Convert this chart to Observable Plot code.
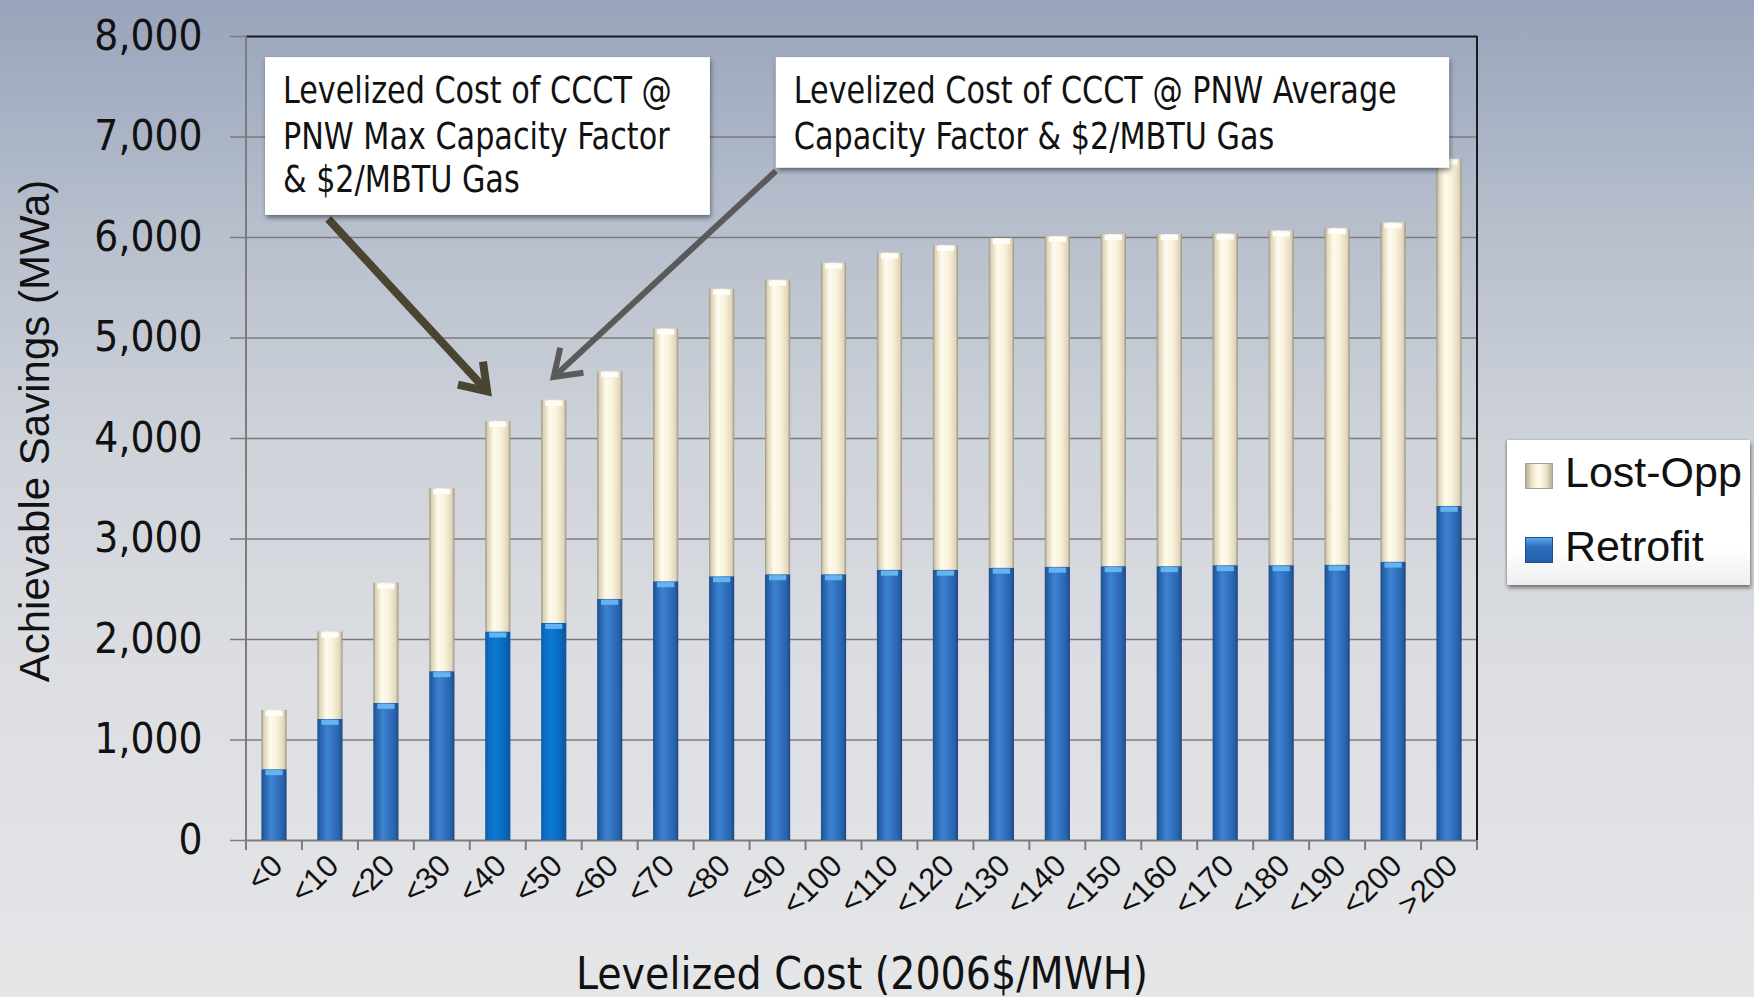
<!DOCTYPE html>
<html>
<head>
<meta charset="utf-8">
<script src="https://cdn.jsdelivr.net/npm/d3@7"></script>
<script src="https://cdn.jsdelivr.net/npm/@observablehq/plot@0.6"></script>
<style>
  html, body { margin: 0; padding: 0; }
  body {
    width: 1754px; height: 997px; overflow: hidden;
    background: linear-gradient(180deg, #98a4bb 0%, #b6becc 22%, #cfd3da 45%, #dcdee2 68%, #e5e6e8 100%);
  }
  #wrap { position: relative; width: 1754px; height: 997px; }
  #wrap svg { position: absolute; left: 0; top: 0; overflow: visible; }
  #legend {
    position: absolute; left: 1507px; top: 440px; width: 243px; height: 145px;
    background: linear-gradient(180deg, #ffffff 0%, #ffffff 75%, #eeeeee 100%);
    box-shadow: 1px 3px 4px rgba(0,0,0,0.45), -1px 0 2px rgba(0,0,0,0.2);
    font-family: "Liberation Sans", Arial, sans-serif; color: #111;
  }
  .sw { position: absolute; left: 18px; width: 28px; height: 26px; box-sizing: border-box; }
  .lab { position: absolute; left: 58px; font-size: 43px; line-height: 1; }
</style>
</head>
<body>
<div id="wrap"></div>
<script>
// ---------------- data ----------------
const categories = ["<0","<10","<20","<30","<40","<50","<60","<70","<80","<90","<100","<110","<120","<130","<140","<150","<160","<170","<180","<190","<200",">200"];
const retrofit = [705, 1205, 1365, 1680, 2075, 2160, 2400, 2575, 2625, 2645, 2645, 2690, 2690, 2710, 2720, 2725, 2725, 2735, 2735, 2740, 2770, 3325];
const lostOpp  = [590, 870, 1195, 1820, 2095, 2220, 2265, 2515, 2860, 2930, 3100, 3155, 3230, 3280, 3290, 3305, 3305, 3300, 3330, 3350, 3375, 3455];
const seriesNames = ["Retrofit", "Lost-Opp"];
const legendOrder = ["Lost-Opp", "Retrofit"];
const highlighted = ["<40", "<50"];
const yTicks = [0, 1000, 2000, 3000, 4000, 5000, 6000, 7000, 8000];
const xTitle = "Levelized Cost (2006$/MWH)";
const yTitle = "Achievable Savings (MWa)";
const callouts = [
  { lines: ["Levelized Cost of CCCT @", "PNW Max Capacity Factor", "& $2/MBTU Gas"],
    box: [0.34, 8.29, 7790, 6220], text: [0.66, [7333, 6876, 6448]],
    arrow: [1.47, 6179, 4.31, 4465], color: "#4a4531", width: 8 },
  { lines: ["Levelized Cost of CCCT @ PNW Average", "Capacity Factor & $2/MBTU Gas"],
    box: [9.47, 21.5, 7790, 6690], text: [9.79, [7333, 6876]],
    arrow: [9.47, 6657, 5.5, 4607], color: "#5a5a5a", width: 6 }
];

// ---------------- table ----------------
const table = [];
categories.forEach((c, i) => {
  table.push({cat: c, series: "Retrofit", value: retrofit[i]});
  table.push({cat: c, series: "Lost-Opp", value: lostOpp[i]});
});

const NARROW = "'Liberation Sans Narrow', 'Arial Narrow', 'DejaVu Sans Condensed', sans-serif";
const REG = "'Liberation Sans', Arial, sans-serif";

const fillOf = d => d.series === "Retrofit" ? (highlighted.includes(d.cat) ? "url(#gRetroHi)" : "url(#gRetro)") : "url(#gLost)";
const capOf = d => d.series === "Retrofit" ? "#63b4ef" : "#fffdf7";

const chart = Plot.plot({
  width: 1754, height: 997,
  marginLeft: 246, marginRight: 277, marginTop: 36, marginBottom: 157,
  style: {background: "transparent", fontFamily: NARROW, color: "#111", overflow: "visible"},
  x: {domain: categories, paddingInner: 0.55, paddingOuter: 0.275, round: false, label: null},
  y: {domain: [0, 8000], label: null},
  color: {type: "identity"},
  marks: [
    Plot.gridY(yTicks.filter(t => t > 0 && t < 8000), {stroke: "#7c7c7c", strokeOpacity: 1, strokeWidth: 1.5}),
    Plot.ruleY([0], {stroke: "#7c7c7c", strokeWidth: 2}),
    Plot.barY(table, Plot.stackY({x: "cat", y: "value", z: "series", order: seriesNames, fill: fillOf})),
    Plot.tickY(table, Plot.stackY2({x: "cat", y: "value", z: "series", order: seriesNames, stroke: capOf, strokeWidth: 5, dy: 3, insetLeft: 4, insetRight: 4})),
    Plot.ruleY([8000], {stroke: "#1b1b1b", strokeWidth: 2}),
    Plot.axisY(yTicks, {tickSize: 16, tickPadding: 28, tickFormat: d3.format(","), stroke: "#7c7c7c", strokeWidth: 1.5, fontSize: 42, fontFamily: NARROW, label: null}),
    Plot.axisX({tickRotate: -45, tickSize: 0, tickPadding: 20, dx: 3, fontSize: 31, fontFamily: REG, label: null}),
    Plot.text([xTitle], {text: d => d, frameAnchor: "bottom", dy: 148, fontSize: 44, fontFamily: NARROW, fill: "#111"})
  ]
});

document.getElementById("wrap").appendChild(chart);

// ---------------- decorations using the chart's scales ----------------
const svg = d3.select(chart);
const xs = chart.scale("x"), ys = chart.scale("y");
const step = xs.apply(categories[1]) - xs.apply(categories[0]);
const bw = xs.bandwidth;
const left = xs.apply(categories[0]) - (step - bw) / 2;
const U = u => left + u * step;
const V = v => ys.apply(v);
const yTop = V(8000), yBot = V(0);
const right = U(categories.length);

const defs = svg.insert("defs", ":first-child");
function grad(id, stops) {
  const g = defs.append("linearGradient").attr("id", id).attr("x1", 0).attr("x2", 1).attr("y1", 0).attr("y2", 0);
  stops.forEach(([o, c]) => g.append("stop").attr("offset", o).attr("stop-color", c));
}
grad("gRetro", [[0, "#1d4f8e"], [0.12, "#2862a8"], [0.38, "#3c83d2"], [0.62, "#3273c2"], [0.88, "#2860a8"], [1, "#1a4680"]]);
grad("gRetroHi", [[0, "#0b5aa6"], [0.12, "#0a6ac0"], [0.4, "#0d79d2"], [0.7, "#0a6cc2"], [1, "#0a559e"]]);
grad("gLost", [[0, "#9c9684"], [0.1, "#ddd4b8"], [0.35, "#fffbee"], [0.65, "#f7efd8"], [0.9, "#e0d6ba"], [1, "#98927f"]]);
const f = defs.append("filter").attr("id", "shadow").attr("x", "-5%").attr("y", "-5%").attr("width", "115%").attr("height", "125%");
f.append("feDropShadow").attr("dx", 1).attr("dy", 3).attr("stdDeviation", 2.5).attr("flood-color", "#000").attr("flood-opacity", 0.45);

const deco = svg.append("g");
deco.append("line").attr("x1", left).attr("x2", left).attr("y1", yTop).attr("y2", yBot + 10).attr("stroke", "#7c7c7c").attr("stroke-width", 2);
deco.append("line").attr("x1", right).attr("x2", right).attr("y1", yTop).attr("y2", yBot).attr("stroke", "#1b1b1b").attr("stroke-width", 2);
for (let i = 1; i <= categories.length; i++) {
  deco.append("line").attr("x1", U(i)).attr("x2", U(i)).attr("y1", yBot).attr("y2", yBot + 10).attr("stroke", "#7c7c7c").attr("stroke-width", 2);
}
deco.append("text")
  .attr("transform", `translate(${left - 212},${(yTop + yBot) / 2 - 7}) rotate(-90)`)
  .attr("text-anchor", "middle").attr("dominant-baseline", "central")
  .attr("font-family", REG).attr("font-size", 42).attr("fill", "#111").text(yTitle);

// callouts
callouts.forEach(c => {
  const g = svg.append("g");
  const [u0, u1, v0, v1] = c.box;
  const [au, av, bu, bv] = c.arrow;
  const x1 = U(au), y1 = V(av), x2 = U(bu), y2 = V(bv);
  const ang = Math.atan2(y2 - y1, x2 - x1);
  const L = 30, A = Math.PI / 5.2;
  g.append("line").attr("x1", x1).attr("y1", y1).attr("x2", x2 - Math.cos(ang) * 3).attr("y2", y2 - Math.sin(ang) * 3)
    .attr("stroke", c.color).attr("stroke-width", c.width);
  g.append("path")
    .attr("d", `M${x2 - L * Math.cos(ang - A)},${y2 - L * Math.sin(ang - A)} L${x2},${y2} L${x2 - L * Math.cos(ang + A)},${y2 - L * Math.sin(ang + A)}`)
    .attr("fill", "none").attr("stroke", c.color).attr("stroke-width", c.width).attr("stroke-linejoin", "miter").attr("stroke-linecap", "butt");
  g.append("rect").attr("x", U(u0)).attr("y", V(v0)).attr("width", U(u1) - U(u0)).attr("height", V(v1) - V(v0))
    .attr("fill", "#ffffff").attr("filter", "url(#shadow)");
  const [tu, tvs] = c.text;
  c.lines.forEach((line, i) => {
    const t = g.append("text").attr("x", U(tu)).attr("y", V(tvs[i])).attr("text-anchor", "start")
      .attr("font-family", NARROW).attr("font-size", 38).attr("fill", "#111").text(line);
    const len = t.node().getComputedTextLength();
    if (len > 0) t.attr("textLength", len * 0.885).attr("lengthAdjust", "spacingAndGlyphs");
  });
});

// legend (HTML, to the right of the plot)
const legend = document.createElement("div");
legend.id = "legend";
const swatchStyle = {
  "Lost-Opp": "background: linear-gradient(90deg, #b7b09a 0%, #eee6cd 25%, #fffbee 50%, #eee6cd 75%, #b7b09a 100%); border: 1px solid #a8a18c;",
  "Retrofit": "background: linear-gradient(180deg, #5aa8ea 0%, #2f6fbf 35%, #245fa8 100%); border: 1px solid #1d4f8e;"
};
legendOrder.forEach((name, i) => {
  const top = i === 0 ? 23 : 97;
  legend.insertAdjacentHTML("beforeend",
    `<div class="sw" style="top:${top}px;${swatchStyle[name]}"></div><div class="lab" style="top:${top - 12}px">${name}</div>`);
});
document.getElementById("wrap").appendChild(legend);
</script>
</body>
</html>
